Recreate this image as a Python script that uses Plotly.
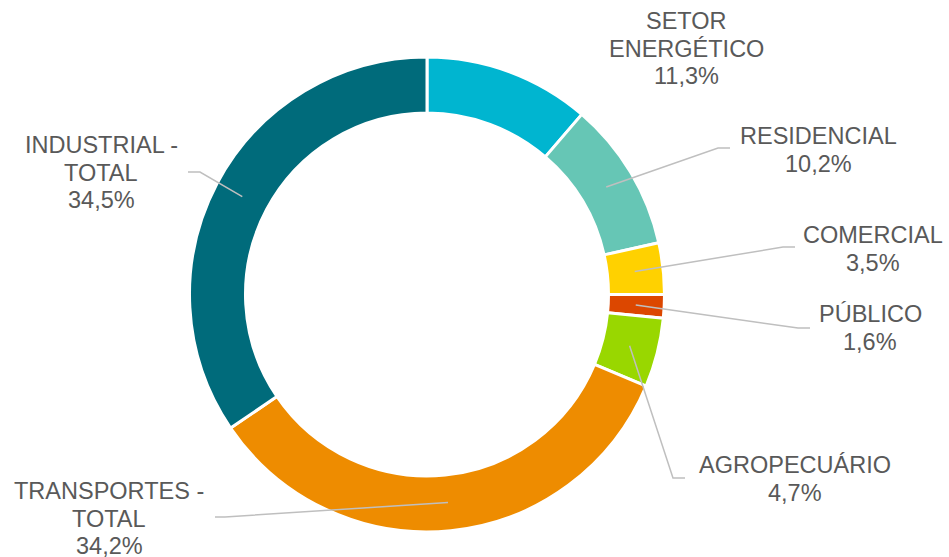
import math
import plotly.graph_objects as go

# ---- data ----
categories = ["SETOR ENERGÉTICO", "RESIDENCIAL", "COMERCIAL", "PÚBLICO",
              "AGROPECUÁRIO", "TRANSPORTES - TOTAL", "INDUSTRIAL - TOTAL"]
values = [11.3, 10.2, 3.5, 1.6, 4.7, 34.2, 34.5]
label_lines = [["SETOR", "ENERGÉTICO"], ["RESIDENCIAL"], ["COMERCIAL"], ["PÚBLICO"],
               ["AGROPECUÁRIO"], ["TRANSPORTES -", "TOTAL"], ["INDUSTRIAL -", "TOTAL"]]
colors = ["#00B5D0", "#66C6B5", "#FFD100", "#DC4700", "#99D700", "#EE8C00", "#006B7B"]

# ---- layout (pixels) ----
W, H = 949, 557
CX, CY, R_OUT, R_IN = 427, 294.5, 237.5, 181.5
R_ANCHOR = 209
FS = 23.5
LINE_H = 27.5
TEXT_COLOR = "#595959"
LEADER_COLOR = "#BFBFBF"

# label block: (center x, first line y)
label_pos = [(686, 21), (818, 136), (873, 235), (870, 314),
             (795, 465), (109, 491), (101, 145)]
# leader line elbows: (elbow x, elbow y, end x) ; None = no leader
leaders = [None, (718, 148, 730), (783, 247, 795), (798, 328, 810),
           (673, 478, 685), (225, 517, 215), (200, 172, 188)]


def px(x):
    return x / W


def py(y):
    return 1 - y / H


fig = go.Figure(go.Pie(
    labels=categories, values=values, sort=False, direction="clockwise",
    rotation=0, hole=R_IN / R_OUT, textinfo="none",
    marker=dict(colors=colors, line=dict(color="white", width=3)),
    domain=dict(x=[px(CX - R_OUT), px(CX + R_OUT)], y=[py(CY + R_OUT), py(CY - R_OUT)]),
    showlegend=False,
))

total = sum(values)
cum = 0
shapes = []
annotations = []
for i, v in enumerate(values):
    mid = (cum + v / 2) / total * 2 * math.pi
    cum += v
    ax = CX + R_ANCHOR * math.sin(mid)
    ay = CY - R_ANCHOR * math.cos(mid)
    if leaders[i] is not None:
        ex, ey, tx = leaders[i]
        shapes.append(dict(
            type="path", xref="paper", yref="paper",
            path=f"M {px(ax)} {py(ay)} L {px(ex)} {py(ey)} L {px(tx)} {py(ey)}",
            line=dict(color=LEADER_COLOR, width=1.5)))
    lx, ly = label_pos[i]
    lines = label_lines[i] + [f"{v:.1f}".replace(".", ",") + "%"]
    for j, t in enumerate(lines):
        annotations.append(dict(
            x=px(lx), y=py(ly + j * LINE_H), xref="paper", yref="paper",
            text=t, showarrow=False, xanchor="center", yanchor="middle",
            font=dict(family="Liberation Sans, Arial, sans-serif", size=FS, color=TEXT_COLOR)))

fig.update_layout(
    width=W, height=H, margin=dict(l=0, r=0, t=0, b=0),
    paper_bgcolor="white", plot_bgcolor="white",
    shapes=shapes, annotations=annotations,
)

fig.write_html("out.html", config={"displayModeBar": False},
               post_script="document.body.style.margin='0px';")
